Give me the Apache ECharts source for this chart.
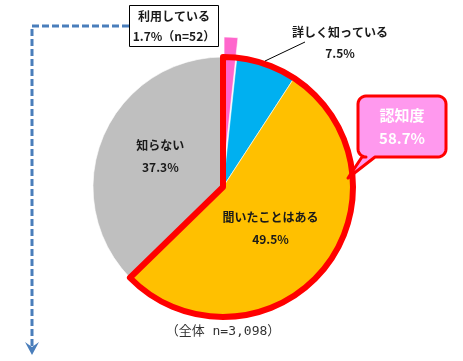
<!DOCTYPE html>
<html><head><meta charset="utf-8">
<script src="https://cdn.jsdelivr.net/npm/echarts@6/dist/echarts.min.js"></script>
<style>html,body{margin:0;padding:0;background:#fff}#c{width:463px;height:361px}</style>
</head><body><div id="c"></div>
<script>
// ---- data ----
const categories = ['利用している', '詳しく知っている', '聞いたことはある', '知らない'];
const shownPercents = [1.7, 7.5, 49.5, 37.3];          // percentages printed on the chart
const sliceValues = [1.7, 7.5, 53.5, 37.3];            // slice sizes as drawn in the picture
const sliceColors = ['#ff66cc', '#00b0f0', '#ffc000', '#bfbfbf'];
const usersN = 52;
const totalN = '3,098';
const awarenessTitle = '認知度';

// ---- derived ----
const awareness = (shownPercents[0] + shownPercents[1] + shownPercents[2]).toFixed(1);
const awareSlice = sliceValues[0] + sliceValues[1] + sliceValues[2];
const FONT = '"Noto Sans CJK JP", "Noto Sans", sans-serif';
const CENTER = [223, 187];
const R = 130;

// callout outline: rounded rectangle with a tail
function calloutPoints(x0, y0, x1, y1, r, tailA, tailB, tip) {
  const pts = [];
  function arc(cx, cy, a0, a1) {
    for (let k = 0; k <= 6; k++) {
      const a = a0 + (a1 - a0) * k / 6;
      pts.push([cx + r * Math.cos(a), cy + r * Math.sin(a)]);
    }
  }
  arc(x0 + r, y0 + r, Math.PI, 1.5 * Math.PI);
  arc(x1 - r, y0 + r, 1.5 * Math.PI, 2 * Math.PI);
  arc(x1 - r, y1 - r, 0, 0.5 * Math.PI);
  pts.push([tailB, y1]); pts.push(tip); pts.push([tailA, y1]);
  arc(x0 + r, y1 - r, 0.5 * Math.PI, Math.PI);
  return pts;
}

const chart = echarts.init(document.getElementById('c'), null, {renderer: 'canvas'});

const pieData = categories.map((name, i) => ({
  name: name,
  value: sliceValues[i],
  selected: i === 0,
  itemStyle: {color: sliceColors[i]},
  label: {show: i >= 2}
}));

const option = {
  animation: false,
  backgroundColor: '#ffffff',
  series: [
    {
      type: 'pie',
      center: CENTER,
      radius: [0, R],
      startAngle: 90,
      clockwise: true,
      avoidLabelOverlap: false,
      selectedMode: 'single',
      selectedOffset: 20,
      emphasis: {disabled: true},
      itemStyle: {borderColor: '#ffffff', borderWidth: 0.6},
      label: {
        position: 'inside',
        color: '#1a1a1a',
        fontFamily: FONT,
        fontWeight: 'bold',
        fontSize: 12,
        lineHeight: 22,
        formatter: p => categories[p.dataIndex] + '\n' + shownPercents[p.dataIndex].toFixed(1) + '%'
      },
      labelLayout: p => (p.dataIndex === 3 ? {dx: 0, dy: -4} : {dx: -5, dy: -2}),
      labelLine: {show: false},
      data: pieData,
      z: 2
    },
    {
      type: 'pie',
      center: CENTER,
      radius: [0, R],
      startAngle: 90,
      clockwise: true,
      silent: true,
      emphasis: {disabled: true},
      label: {show: false},
      labelLine: {show: false},
      data: [
        {value: awareSlice, itemStyle: {color: 'rgba(0,0,0,0)', borderColor: '#ff0000', borderWidth: 6, borderJoin: 'round'}},
        {value: sliceValues[3], itemStyle: {color: 'rgba(0,0,0,0)', borderWidth: 0}}
      ],
      z: 3
    }
  ],
  graphic: [
    {type: 'polyline', z: 100, shape: {points: [[129, 26], [32, 26], [32, 346]]},
      style: {stroke: '#4a7ebb', lineWidth: 3, lineDash: [7, 3], fill: null}},
    {type: 'polygon', z: 100, shape: {points: [[25, 342], [32, 355], [39, 342], [32, 347]]},
      style: {fill: '#4a7ebb'}},
    {type: 'rect', z: 100, shape: {x: 129.5, y: 5.5, width: 89, height: 41},
      style: {fill: '#ffffff', stroke: '#000000', lineWidth: 1}},
    {type: 'text', z: 101, x: 174, y: 16,
      style: {text: categories[0], fill: '#1a1a1a', font: 'bold 12px ' + FONT, align: 'center', verticalAlign: 'middle'}},
    {type: 'text', z: 101, x: 174, y: 36,
      style: {text: shownPercents[0].toFixed(1) + '%（n=' + usersN + '）', fill: '#1a1a1a', font: 'bold 12px ' + FONT, align: 'center', verticalAlign: 'middle'}},
    {type: 'line', z: 100, shape: {x1: 265, y1: 61, x2: 305, y2: 42}, style: {stroke: '#000000', lineWidth: 1}},
    {type: 'text', z: 101, x: 340, y: 32,
      style: {text: categories[1], fill: '#1a1a1a', font: 'bold 12px ' + FONT, align: 'center', verticalAlign: 'middle'}},
    {type: 'text', z: 101, x: 340, y: 53,
      style: {text: shownPercents[1].toFixed(1) + '%', fill: '#1a1a1a', font: 'bold 12px ' + FONT, align: 'center', verticalAlign: 'middle'}},
    {type: 'polygon', z: 100,
      shape: {points: calloutPoints(358, 96, 446, 157, 8, 362, 375, [348, 178])},
      style: {fill: '#ff99ee', stroke: '#ff0000', lineWidth: 3, lineJoin: 'round'}},
    {type: 'text', z: 101, x: 402, y: 115,
      style: {text: awarenessTitle, fill: '#ffffff', font: 'bold 15px ' + FONT, align: 'center', verticalAlign: 'middle'}},
    {type: 'text', z: 101, x: 402, y: 138,
      style: {text: awareness + '%', fill: '#ffffff', font: 'bold 15px ' + FONT, align: 'center', verticalAlign: 'middle'}},
    {type: 'text', z: 101, x: 223, y: 332,
      style: {text: '（全体 n=' + totalN + '）', fill: '#333333', font: '13px "DejaVu Sans Mono", "Noto Sans CJK JP", monospace', align: 'center', verticalAlign: 'middle'}}
  ]
};
chart.setOption(option);
</script>
</body></html>
